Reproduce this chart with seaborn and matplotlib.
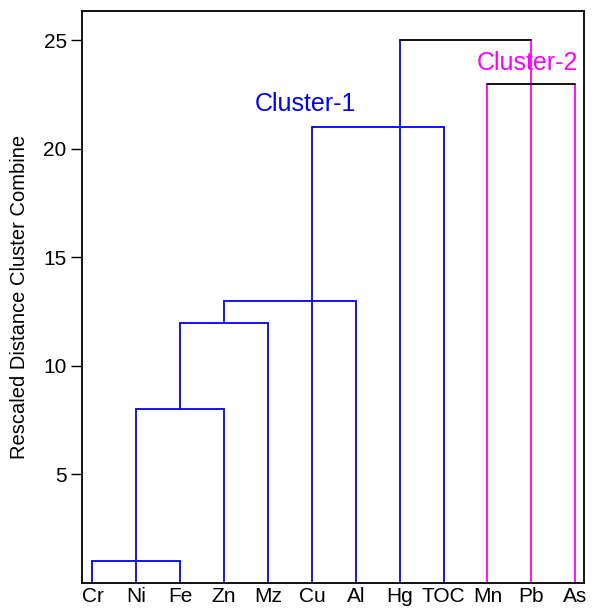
import matplotlib
matplotlib.use("Agg")
import matplotlib.pyplot as plt
import seaborn as sns
import pandas as pd

leaves = ["Cr", "Ni", "Fe", "Zn", "Mz", "Cu", "Al", "Hg", "TOC", "Mn", "Pb", "As"]

# dendrogram links: left position, right position, merge height, base heights
link_left = ["Cr", "Ni", "Fe", "Zn", "Cu", "Mn", "Hg"]
link_right = ["Fe", "Zn", "Mz", "Al", "TOC", "As", "Pb"]
link_height = [1, 8, 12, 13, 21, 23, 25]
left_base = [0, 0, 8, 12, 0, 0, 0]
right_base = [0, 0, 0, 0, 0, 0, 0]
left_color = ["c1", "c1", "c1", "c1", "c1", "c2", "c1"]
right_color = ["c1", "c1", "c1", "c1", "c1", "c2", "c2"]
bar_color = ["c1", "c1", "c1", "c1", "c1", "k", "k"]

cluster_names = ["Cluster-1", "Cluster-2"]
cluster_x = [4.86, 9.9]
cluster_y = [22.05, 23.95]

palette = {"c1": "#0000ff", "c2": "#ff00ff", "k": "#000000"}

pos = {n: i for i, n in enumerate(leaves)}
rows = []
seg = 0
for l, r, h, lb, rb, lc, rc, bc in zip(link_left, link_right, link_height, left_base,
                                       right_base, left_color, right_color, bar_color):
    xl, xr = pos[l], pos[r]
    for xs, ys, c in [((xl, xl), (lb, h), lc), ((xr, xr), (rb, h), rc), ((xl, xr), (h, h), bc)]:
        for x, y in zip(xs, ys):
            rows.append({"x": x, "y": y, "seg": seg, "col": c})
        seg += 1
df = pd.DataFrame(rows)

sns.set_style("ticks")
plt.rcParams["font.family"] = ["Liberation Sans", "DejaVu Sans"]

fig = plt.figure(figsize=(5.98, 6.11), dpi=100)
ax = fig.add_axes([0.137, 0.0458, 0.8396, 0.9362])

sns.lineplot(data=df, x="x", y="y", units="seg", estimator=None, hue="col",
             palette=palette, sort=False, legend=False, lw=1.3, ax=ax)

for name, cx, cy, c in zip(cluster_names, cluster_x, cluster_y, ["c1", "c2"]):
    ax.text(cx, cy, name, color=palette[c], fontsize=18, ha="center", va="center")

ax.set_xlim(-0.24, 11.2)
ax.set_ylim(0, 26.35)
ax.set_xticks(range(len(leaves)))
ax.set_xticklabels(leaves, fontsize=15, color="black")
ax.tick_params(axis="x", length=0, pad=3)
ax.set_yticks([5, 10, 15, 20, 25])
ax.tick_params(axis="y", labelsize=15, labelcolor="black", length=8, width=1,
               color="black", pad=3)
ax.set_xlabel("")
ax.set_ylabel("Rescaled Distance Cluster Combine", fontsize=14.5, color="black",
              labelpad=10)
for s in ax.spines.values():
    s.set_visible(True)
    s.set_color("black")
    s.set_linewidth(1.3)

fig.savefig("out.png", dpi=100)
